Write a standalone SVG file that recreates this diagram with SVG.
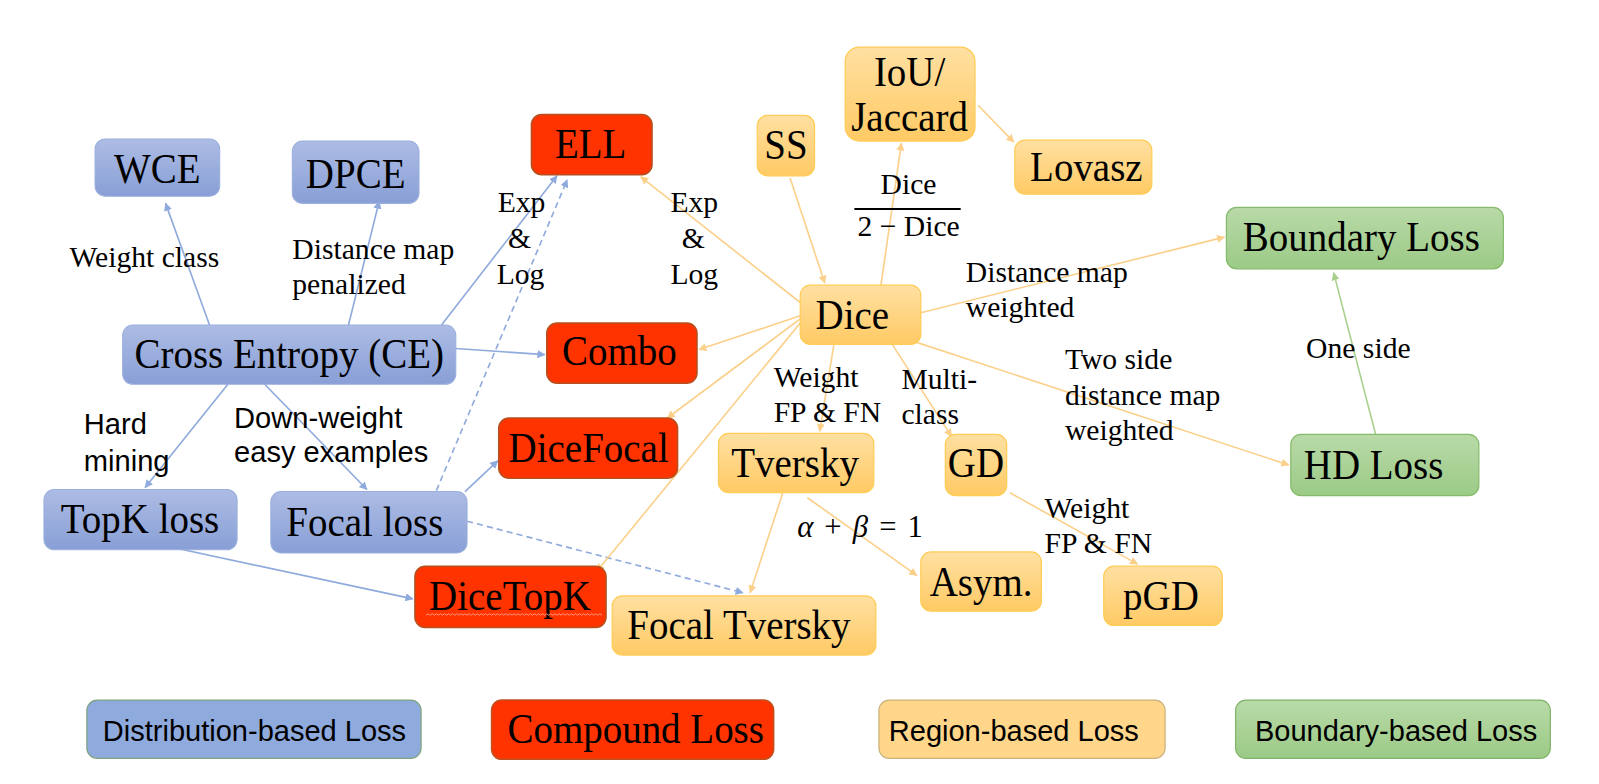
<svg xmlns="http://www.w3.org/2000/svg" width="1599" height="784" viewBox="0 0 1599 784">
<defs>
<linearGradient id="gBlue" x1="0" y1="0" x2="0" y2="1"><stop offset="0" stop-color="#adbce4"/><stop offset="1" stop-color="#889fd6"/></linearGradient>
<linearGradient id="gYel" x1="0" y1="0" x2="0" y2="1"><stop offset="0" stop-color="#ffe0a2"/><stop offset="1" stop-color="#ffca64"/></linearGradient>
<linearGradient id="gGrn" x1="0" y1="0" x2="0" y2="1"><stop offset="0" stop-color="#b9daa8"/><stop offset="1" stop-color="#9bca86"/></linearGradient>
<marker id="aB" viewBox="0 0 10 10" refX="9" refY="5" markerWidth="8" markerHeight="8" orient="auto" markerUnits="userSpaceOnUse"><path d="M0,0 L10,5 L0,10 z" fill="#8faadc"/></marker>
<marker id="aY" viewBox="0 0 10 10" refX="9" refY="5" markerWidth="8" markerHeight="8" orient="auto" markerUnits="userSpaceOnUse"><path d="M0,0 L10,5 L0,10 z" fill="#fbd08a"/></marker>
<marker id="aG" viewBox="0 0 10 10" refX="9" refY="5" markerWidth="8" markerHeight="8" orient="auto" markerUnits="userSpaceOnUse"><path d="M0,0 L10,5 L0,10 z" fill="#a9d18e"/></marker>
</defs>
<style>
.blue{fill:url(#gBlue);stroke:#9aafdd;stroke-width:1}
.red{fill:#ff3300;stroke:#b5501f;stroke-width:1.5}
.yel{fill:url(#gYel);stroke:#ffcc55;stroke-width:1.2}
.grn{fill:url(#gGrn);stroke:#86bb6c;stroke-width:1.2}
.nt{font-family:"Liberation Serif","Times New Roman",serif;font-size:41px;fill:#000;text-anchor:middle;transform-box:fill-box;transform-origin:center;transform:scaleX(0.93)}
.lb{font-family:"Liberation Serif","Times New Roman",serif;font-size:29px;fill:#000}
.ls{font-family:"Liberation Sans",Arial,sans-serif;font-size:28.5px;fill:#000}
.lg{font-family:"Liberation Sans",Arial,sans-serif;font-size:28.4px;fill:#000;text-anchor:middle}
.cb{stroke:#8faadc;stroke-width:1.6;fill:none;marker-end:url(#aB)}
.cbd{stroke:#8faadc;stroke-width:1.6;fill:none;stroke-dasharray:6,4;marker-end:url(#aB)}
.cy{stroke:#fbd08a;stroke-width:1.6;fill:none;marker-end:url(#aY)}
.cg{stroke:#a9d18e;stroke-width:1.6;fill:none;marker-end:url(#aG)}
</style>
<rect width="1599" height="784" fill="#ffffff"/>
<g transform="scale(1.022)">
<g id="connectors">
<line class="cb" x1="205" y1="318" x2="162" y2="199"/>
<line class="cb" x1="341" y1="318" x2="371" y2="197"/>
<line class="cb" x1="432" y1="318" x2="545" y2="172"/>
<line class="cb" x1="446" y1="341" x2="533" y2="347"/>
<line class="cb" x1="223" y1="376" x2="142" y2="477"/>
<line class="cb" x1="259" y1="376" x2="359" y2="479"/>
<line class="cbd" x1="427" y1="480" x2="555" y2="176"/>
<line class="cb" x1="455" y1="481" x2="487" y2="451"/>
<line class="cbd" x1="457" y1="510" x2="727" y2="580"/>
<line class="cb" x1="175" y1="537" x2="404" y2="586"/>

<line class="cy" x1="783" y1="296" x2="627" y2="173"/>
<line class="cy" x1="773" y1="174" x2="807" y2="277"/>
<line class="cy" x1="862" y1="279" x2="882" y2="140"/>
<line class="cy" x1="957" y1="103" x2="992" y2="139"/>
<line class="cy" x1="901" y1="306" x2="1198" y2="232"/>
<line class="cy" x1="783" y1="309" x2="684" y2="342"/>
<line class="cy" x1="783" y1="312" x2="653" y2="409"/>
<line class="cy" x1="783" y1="316" x2="584" y2="559"/>
<line class="cy" x1="816" y1="337" x2="802" y2="422"/>
<line class="cy" x1="873" y1="337" x2="931" y2="427"/>
<line class="cy" x1="897" y1="335" x2="1261" y2="455"/>
<line class="cy" x1="766" y1="482" x2="734" y2="580"/>
<line class="cy" x1="790" y1="487" x2="897" y2="563"/>
<line class="cy" x1="988" y1="482" x2="1113" y2="552"/>
<line class="cg" x1="1346" y1="425" x2="1305" y2="267"/>
</g>

<g id="edge-labels">
<text class="lb" x="68" y="261">Weight class</text>
<text class="lb" x="286" y="253">Distance map</text>
<text class="lb" x="286" y="288">penalized</text>
<text class="lb" x="487" y="207">Exp</text>
<text class="lb" x="497" y="243">&amp;</text>
<text class="lb" x="486" y="278">Log</text>
<text class="lb" x="656" y="207">Exp</text>
<text class="lb" x="667" y="243">&amp;</text>
<text class="lb" x="656" y="278">Log</text>
<text class="lb" x="889" y="190" text-anchor="middle">Dice</text>
<line x1="836" y1="204.5" x2="940" y2="204.5" stroke="#000" stroke-width="1.8"/>
<text class="lb" x="889" y="231" text-anchor="middle">2 − Dice</text>
<text class="lb" x="945" y="276">Distance map</text>
<text class="lb" x="945" y="310">weighted</text>
<text class="lb" x="1042" y="361">Two side</text>
<text class="lb" x="1042" y="396">distance map</text>
<text class="lb" x="1042" y="431">weighted</text>
<text class="lb" x="1278" y="350">One side</text>
<text class="lb" x="757" y="379">Weight</text>
<text class="lb" x="757" y="413">FP &amp; FN</text>
<text class="lb" x="882" y="381">Multi-</text>
<text class="lb" x="882" y="415">class</text>
<text class="lb" x="780" y="525" style="font-size:30px" textLength="123" lengthAdjust="spacing"><tspan font-style="italic">α</tspan> + <tspan font-style="italic">β</tspan> = 1</text>
<text class="lb" x="1022" y="507">Weight</text>
<text class="lb" x="1022" y="541">FP &amp; FN</text>
<text class="ls" x="82" y="425">Hard</text>
<text class="ls" x="82" y="461">mining</text>
<text class="ls" x="229" y="419">Down-weight</text>
<text class="ls" x="229" y="452">easy examples</text>
</g>

<g id="node-wce"><rect class="blue" x="93" y="136" width="122" height="56" rx="10"/><text class="nt" x="154" y="179">WCE</text></g>
<g id="node-dpce"><rect class="blue" x="286" y="138" width="124" height="61" rx="10"/><text class="nt" x="348" y="184">DPCE</text></g>
<g id="node-ce"><rect class="blue" x="120" y="318" width="326" height="58" rx="10"/><text class="nt" x="283" y="360">Cross Entropy (CE)</text></g>
<g id="node-topk"><rect class="blue" x="43" y="479" width="189" height="59" rx="10"/><text class="nt" x="137" y="522">TopK loss</text></g>
<g id="node-focal"><rect class="blue" x="265" y="481" width="192" height="60" rx="10"/><text class="nt" x="357" y="524">Focal loss</text></g>

<g id="node-ell"><rect class="red" x="520" y="112" width="118" height="59" rx="10"/><text class="nt" x="578" y="155">ELL</text></g>
<g id="node-combo"><rect class="red" x="535" y="316" width="147" height="59" rx="10"/><text class="nt" x="606" y="357">Combo</text></g>
<g id="node-dicefocal"><rect class="red" x="488" y="409" width="175" height="59" rx="10"/><text class="nt" x="576" y="452">DiceFocal</text></g>
<g id="node-dicetopk"><rect class="red" x="406" y="554" width="187" height="60" rx="10"/><text class="nt" x="499" y="597">DiceTopK</text><path d="M417,602 l2,-1.5 l2,1.5 l2,-1.5 l2,1.5 l2,-1.5 l2,1.5 l2,-1.5 l2,1.5 l2,-1.5 l2,1.5 l2,-1.5 l2,1.5 l2,-1.5 l2,1.5 l2,-1.5 l2,1.5 l2,-1.5 l2,1.5 l2,-1.5 l2,1.5 l2,-1.5 l2,1.5 l2,-1.5 l2,1.5 l2,-1.5 l2,1.5 l2,-1.5 l2,1.5 l2,-1.5 l2,1.5 l2,-1.5 l2,1.5 l2,-1.5 l2,1.5 l2,-1.5 l2,1.5 l2,-1.5 l2,1.5 l2,-1.5 l2,1.5 l2,-1.5 l2,1.5 l2,-1.5 l2,1.5 l2,-1.5 l2,1.5 l2,-1.5 l2,1.5 l2,-1.5 l2,1.5 l2,-1.5 l2,1.5 l2,-1.5 l2,1.5 l2,-1.5 l2,1.5 l2,-1.5 l2,1.5 l2,-1.5 l2,1.5 l2,-1.5 l2,1.5 l2,-1.5 l2,1.5 l2,-1.5 l2,1.5 l2,-1.5 l2,1.5 l2,-1.5 l2,1.5 l2,-1.5 l2,1.5 l2,-1.5 l2,1.5 l2,-1.5 l2,1.5 l2,-1.5 l2,1.5 l2,-1.5 l2,1.5 l2,-1.5 l2,1.5 l2,-1.5 l2,1.5 l2,-1.5 l2,1.5" fill="none" stroke="#ff9f8a" stroke-width="0.9"/></g>

<g id="node-ss"><rect class="yel" x="741" y="113" width="56" height="59" rx="10"/><text class="nt" x="769" y="156">SS</text></g>
<g id="node-iou"><rect class="yel" x="827" y="46" width="127" height="92" rx="14"/><text class="nt" x="890" y="84">IoU/</text><text class="nt" x="890" y="128">Jaccard</text></g>
<g id="node-lovasz"><rect class="yel" x="993" y="137" width="134" height="53" rx="10"/><text class="nt" x="1063" y="177">Lovasz</text></g>
<g id="node-dice"><rect class="yel" x="783" y="279" width="118" height="58" rx="10"/><text class="nt" x="834" y="322">Dice</text></g>
<g id="node-tversky"><rect class="yel" x="703" y="424" width="152" height="58" rx="10"/><text class="nt" x="778" y="467">Tversky</text></g>
<g id="node-gd"><rect class="yel" x="925" y="425" width="60" height="60" rx="10"/><text class="nt" x="955" y="467">GD</text></g>
<g id="node-asym"><rect class="yel" x="901" y="540" width="118" height="58" rx="10"/><text class="nt" x="960" y="583">Asym.</text></g>
<g id="node-pgd"><rect class="yel" x="1080" y="554" width="116" height="58" rx="10"/><text class="nt" x="1136" y="597">pGD</text></g>
<g id="node-focaltversky"><rect class="yel" x="599" y="583" width="258" height="58" rx="10"/><text class="nt" x="723" y="625">Focal Tversky</text></g>

<g id="node-boundary"><rect class="grn" x="1200" y="203" width="271" height="60" rx="10"/><text class="nt" x="1332" y="246">Boundary Loss</text></g>
<g id="node-hd"><rect class="grn" x="1263" y="425" width="184" height="60" rx="10"/><text class="nt" x="1344" y="469">HD Loss</text></g>

<g id="legend">
<g id="legend-distribution"><rect x="85" y="685" width="327" height="57" rx="10" fill="#8faadc" stroke="#7fa37f" stroke-width="1.2"/><text class="lg" x="249" y="725">Distribution-based Loss</text></g>
<g id="legend-compound"><rect x="481" y="685" width="276" height="58" rx="10" fill="#ff3300" stroke="#c0501e" stroke-width="1.5"/><text class="nt" x="622" y="727">Compound Loss</text></g>
<g id="legend-region"><rect x="860" y="685" width="280" height="57" rx="10" fill="#ffd68a" stroke="#c9b27a" stroke-width="1.2"/><text class="lg" x="992" y="725">Region-based Loss</text></g>
<g id="legend-boundary"><rect x="1209" y="685" width="308" height="57" rx="10" fill="url(#gGrn)" stroke="#80b46a" stroke-width="1.2"/><text class="lg" x="1366" y="725">Boundary-based Loss</text></g>
</g>
</g>
</svg>
